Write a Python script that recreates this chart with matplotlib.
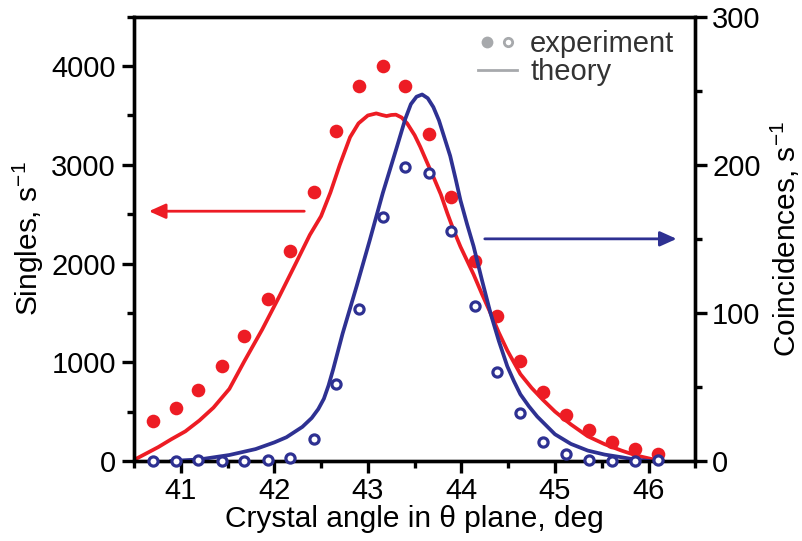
import matplotlib
matplotlib.use('Agg')
import matplotlib.pyplot as plt
from matplotlib.ticker import MultipleLocator
from matplotlib.legend_handler import HandlerTuple
from matplotlib.lines import Line2D

plt.rcParams['font.family'] = ['Liberation Sans', 'DejaVu Sans']
plt.rcParams['mathtext.fontset'] = 'custom'
plt.rcParams['mathtext.rm'] = 'Liberation Sans'
plt.rcParams['mathtext.it'] = 'Liberation Sans:italic'

RED = '#ED1C24'
BLUE = '#2E3192'

# measured points (crystal angle, deg)
angle = [40.70, 40.95, 41.19, 41.44, 41.68, 41.93, 42.17, 42.42, 42.66, 42.91, 43.16, 43.40,
         43.65, 43.89, 44.14, 44.38, 44.63, 44.87, 45.12, 45.36, 45.61, 45.85, 46.10]
singles = [408, 537, 719, 966, 1266, 1640, 2127, 2721, 3342, 3795, 4003, 3795,
           3310, 2670, 2025, 1468, 1016, 695, 466, 310, 190, 118, 75]
coinc = [0, 0, 0.5, 0, 0, 0.3, 2, 15, 52, 102.5, 164.7, 198.6,
         194.6, 155.6, 104.7, 60.3, 32.6, 12.6, 4.7, 0.7, 0, 0, 0.3]

# theory curves
th_s_x = [40.48, 40.62, 40.76, 40.90, 41.05, 41.20, 41.35, 41.52, 41.68, 41.87, 42.05, 42.23,
          42.38, 42.50, 42.60, 42.70, 42.81, 42.90, 43.00, 43.09, 43.15, 43.20, 43.25, 43.30,
          43.36, 43.42, 43.50, 43.56, 43.63, 43.70, 43.78, 43.85, 43.92, 43.99, 44.06, 44.13,
          44.22, 44.31, 44.40, 44.49, 44.56, 44.63, 44.75, 44.87, 45.00, 45.17, 45.35, 45.53,
          45.71, 45.87, 46.03, 46.15]
th_s_y = [0, 70, 140, 220, 300, 410, 540, 730, 1010, 1330, 1660, 2002,
          2290, 2480, 2720, 3000, 3280, 3420, 3500, 3521, 3505, 3494, 3505, 3508,
          3480, 3420, 3300, 3183, 3030, 2879, 2700, 2508, 2330, 2170, 2030, 1890,
          1690, 1500, 1300, 1120, 1000, 880, 740, 620, 500, 370, 250, 170,
          105, 55, 20, 0]
th_c_x = [40.90, 41.20, 41.52, 41.80, 42.00, 42.13, 42.30, 42.40, 42.47, 42.53, 42.58, 42.63,
          42.73, 42.88, 43.02, 43.16, 43.31, 43.40, 43.46, 43.52, 43.58, 43.64, 43.70, 43.76,
          43.82, 43.88, 43.94, 43.99, 44.06, 44.13, 44.22, 44.31, 44.40, 44.49, 44.56, 44.63,
          44.72, 44.81, 45.00, 45.17, 45.35, 45.53, 45.71, 45.85, 46.00]
th_c_y = [0, 1, 4, 8, 12.5, 16, 23, 29, 35, 42, 51, 62,
          86, 118, 149, 181, 212, 231, 241, 246, 247.5, 245, 239, 230,
          218, 206, 190, 176, 160, 145, 122, 100, 81, 64, 54, 45,
          37, 30, 18, 11.5, 7, 4.3, 2.5, 1, 0]

fig = plt.figure(figsize=(8.02, 5.41), dpi=100)
ax = fig.add_axes([0.167, 0.148, 0.700, 0.821])
ax2 = ax.twinx()

ax.plot(th_s_x, th_s_y, color=RED, lw=2.7, zorder=2, solid_joinstyle='round')
ax2.plot(th_c_x, th_c_y, color=BLUE, lw=2.7, zorder=2, solid_joinstyle='round')
ax.plot(angle, singles, 'o', color=RED, ms=9.8, mec='none', zorder=3, clip_on=False)
ax2.plot(angle, coinc, 'o', mfc='white', mec=BLUE, mew=2.3, ms=6.6, zorder=3, clip_on=False)

ax.set_xlim(40.5, 46.5)
ax.set_ylim(0, 4500)
ax2.set_ylim(0, 300)
ax.set_xticks([41, 42, 43, 44, 45, 46])
ax.xaxis.set_minor_locator(MultipleLocator(0.5))
ax.set_yticks([0, 1000, 2000, 3000, 4000])
ax.yaxis.set_minor_locator(MultipleLocator(500))
ax2.set_yticks([0, 100, 200, 300])
ax2.yaxis.set_minor_locator(MultipleLocator(50))

for a in (ax, ax2):
    for s in a.spines.values():
        s.set_linewidth(2.4)
    a.tick_params(which='major', length=8.5, width=2.4, labelsize=21, direction='out')
    a.tick_params(which='minor', length=5, width=2.4, direction='out')
ax.tick_params(axis='x', pad=3)
ax.tick_params(axis='y', pad=4.5)
ax2.tick_params(axis='y', pad=3.5)

ax.set_xlabel('Crystal angle in θ plane, deg', fontsize=21.5, labelpad=0)
ax.set_ylabel('Singles, s$^{-1}$', fontsize=21.5, labelpad=4)
ax2.set_ylabel('Coincidences, s$^{-1}$', fontsize=21.5, labelpad=6)

# direction arrows: which axis each curve belongs to
ax.annotate('', xy=(40.63, 2530), xytext=(42.35, 2530),
            arrowprops=dict(arrowstyle='-|>,head_length=1.0,head_width=0.45', color=RED, lw=2))
ax2.annotate('', xy=(46.33, 150), xytext=(44.22, 150),
             arrowprops=dict(arrowstyle='-|>,head_length=1.0,head_width=0.45', color=BLUE, lw=2))

h_full = Line2D([], [], ls='none', marker='o', color='#A7A9AC', ms=8.5, mec='none')
h_open = Line2D([], [], ls='none', marker='o', mfc='white', mec='#A7A9AC', mew=2.0, ms=6.0)
h_line = Line2D([], [], color='#A7A9AC', lw=2)
leg = ax2.legend([(h_full, h_open), h_line], ['experiment', 'theory'],
                 handler_map={tuple: HandlerTuple(ndivide=None, pad=0.1)},
                 loc='upper right', bbox_to_anchor=(0.986, 1.0), frameon=False,
                 fontsize=21, handlelength=1.35, handletextpad=0.45,
                 labelspacing=0.0, borderaxespad=0.05)
for t in leg.get_texts():
    t.set_color('#333333')

fig.savefig('out.png', dpi=100)
